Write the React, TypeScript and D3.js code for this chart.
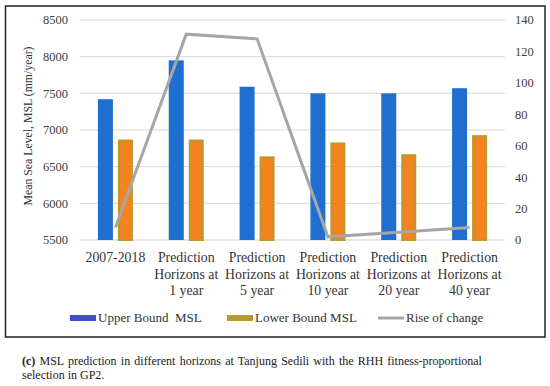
import * as d3 from 'd3';

const categories = [
  ['2007-2018'],
  ['Prediction', 'Horizons at', '1 year'],
  ['Prediction', 'Horizons at', '5 year'],
  ['Prediction', 'Horizons at', '10 year'],
  ['Prediction', 'Horizons at', '20 year'],
  ['Prediction', 'Horizons at', '40 year'],
];
const upperBound = [7420, 7950, 7590, 7500, 7500, 7570];
const lowerBound = [6870, 6870, 6640, 6830, 6670, 6930];
const riseOfChange = [8, 131, 128, 2, 5, 8];
const leftTicks = [5500, 6000, 6500, 7000, 7500, 8000, 8500];
const rightTicks = [0, 20, 40, 60, 80, 100, 120, 140];

const FONT = '"Liberation Serif", "DejaVu Serif", serif';
const BLUE = '#1F6FD0';
const BLUE_LEG = '#4050C8';
const ORANGE = '#F58220';
const OLIVE = '#B89A2C';
const GREY = '#A6A6A6';

export default function App() {
  const width = 550;
  const height = 386;
  const plot = { left: 80, right: 505, top: 20, bottom: 240 };

  const x = d3.scaleBand<number>()
    .domain(categories.map((_, i) => i))
    .range([plot.left, plot.right]);
  const inner = d3.scaleBand<string>()
    .domain(['upper', 'lower'])
    .range([-17.5, 17.5])
    .paddingInner(0.25)
    .paddingOuter(0);
  const yLeft = d3.scaleLinear().domain([5500, 8500]).range([plot.bottom, plot.top]);
  const yRight = d3.scaleLinear().domain([0, 140]).range([plot.bottom, plot.top]);

  const cx = (i: number) => (x(i) || 0) + x.bandwidth() / 2;

  const line = d3.line<number>()
    .x((_, i) => cx(i))
    .y(d => yRight(d));

  return (
    <svg width={width} height={height} style={{ position: 'absolute', left: 0, top: 0, background: '#fff' }}>
      <rect x={5.5} y={6} width={539.5} height={331} fill="#fff" stroke="#222" strokeWidth={1.5} />

      {/* grid */}
      {leftTicks.map(t => (
        <line key={t} x1={plot.left} x2={plot.right} y1={yLeft(t)} y2={yLeft(t)}
          stroke={t === 5500 ? '#d0d0d0' : '#d9d9d9'} strokeWidth={1} />
      ))}

      {/* left axis labels */}
      {leftTicks.map(t => (
        <text key={t} x={68} y={yLeft(t)} dy="0.35em" textAnchor="end"
          fontFamily={FONT} fontSize={12.5} fill="#404040">{t}</text>
      ))}
      {/* right axis labels */}
      {rightTicks.map(t => (
        <text key={t} x={515} y={yRight(t)} dy="0.35em" textAnchor="start"
          fontFamily={FONT} fontSize={12.5} fill="#404040">{t}</text>
      ))}

      <text transform={`translate(32,126) rotate(-90)`} textAnchor="middle"
        fontFamily={FONT} fontSize={11.8} fill="#333">Mean Sea Level, MSL (mm/year)</text>

      {/* bars */}
      {upperBound.map((v, i) => (
        <rect key={'u' + i} x={cx(i) + (inner('upper') || 0)} y={yLeft(v)}
          width={inner.bandwidth()} height={plot.bottom - yLeft(v)} fill={BLUE} />
      ))}
      {lowerBound.map((v, i) => (
        <rect key={'l' + i} x={cx(i) + (inner('lower') || 0) + 1} y={yLeft(v) + 1}
          width={inner.bandwidth() - 2} height={plot.bottom - yLeft(v) - 1} fill={ORANGE}
          stroke={OLIVE} strokeWidth={2} />
      ))}

      {/* line */}
      <path d={line(riseOfChange) || ''} fill="none" stroke={GREY} strokeWidth={3} strokeLinejoin="miter" />

      {/* category labels */}
      {categories.map((lines, i) => (
        <text key={i} textAnchor="middle" fontFamily={FONT} fontSize={13.8} fill="#333">
          {lines.map((l, j) => (
            <tspan key={j} x={cx(i)} y={262 + j * 16.5}>{l}</tspan>
          ))}
        </text>
      ))}

      {/* legend */}
      <g fontFamily={FONT} fontSize={13} fill="#333">
        <rect x={70} y={315} width={26} height={6} fill={BLUE_LEG} />
        <text x={98} y={322}>Upper Bound{'\u00a0\u00a0'}MSL</text>
        <rect x={227} y={315} width={26} height={6} fill={OLIVE} />
        <text x={255} y={322}>Lower Bound MSL</text>
        <line x1={378} x2={404} y1={318} y2={318} stroke={GREY} strokeWidth={3} />
        <text x={406} y={322}>Rise of change</text>
      </g>

      {/* caption */}
      <g fontFamily={FONT} fontSize={12} fill="#222">
        <text x={22} y={365} wordSpacing={1.2}>
          <tspan fontWeight="bold">(c)</tspan> MSL prediction in different horizons at Tanjung Sedili with the RHH fitness-proportional
        </text>
        <text x={22} y={379}>selection in GP2.</text>
      </g>
    </svg>
  );
}
